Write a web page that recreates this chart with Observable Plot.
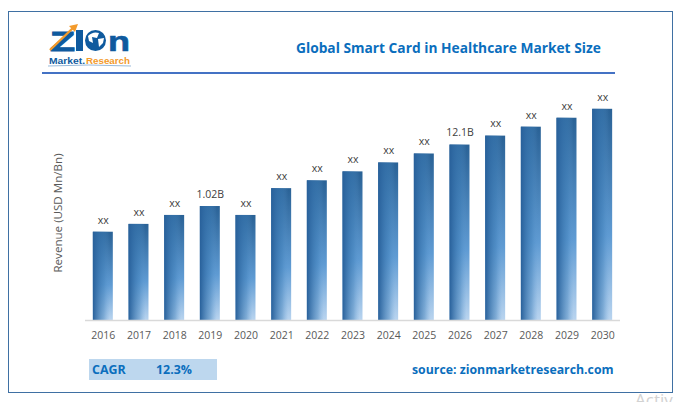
<!DOCTYPE html>
<html>
<head>
<meta charset="utf-8">
<script src="https://cdn.jsdelivr.net/npm/d3@7"></script>
<script src="https://cdn.jsdelivr.net/npm/@observablehq/plot@0.6"></script>
<style>
html,body{margin:0;padding:0;background:#fff;width:681px;height:402px;overflow:hidden;font-family:"Open Sans",sans-serif}
#page{position:relative;width:681px;height:402px;overflow:hidden}
#chart{position:absolute;left:0;top:0}
.frame{position:absolute;left:8px;top:11px;width:663px;height:380px;border:1px solid #3f70a3;box-sizing:content-box}
.title{position:absolute;left:296px;top:38px;font:bold 13.75px "Open Sans",sans-serif;color:#0a6ebd;white-space:nowrap}
.rule{position:absolute;left:42px;top:72px;width:573px;height:2px;background:#4472c4}
.cagr{position:absolute;left:89px;top:359px;width:128px;height:21px;background:#bdd7ee;color:#0a6ebd;font:bold 12.4px/22px "Open Sans",sans-serif}
.cagr span{position:absolute;top:0}
.source{position:absolute;left:412px;top:361px;font:bold 12.3px "Open Sans",sans-serif;color:#0a6ebd;white-space:nowrap}
.watermark{position:absolute;left:635px;top:388px;font:17px "Open Sans",sans-serif;color:#d2d2d2;white-space:nowrap}
#logo{position:absolute;left:46px;top:22px}
</style>
</head>
<body>
<div id="page">
  <div class="frame"></div>
  <svg id="logo" width="88" height="46" viewBox="0 0 88 46">
    <text x="4" y="28.5" font-family="Liberation Sans" font-weight="bold" font-size="28" fill="#0f5a9e" stroke="#0f5a9e" stroke-width="1" textLength="25" lengthAdjust="spacingAndGlyphs">Z</text>
    <rect x="30" y="8" width="7" height="21" fill="#0f5a9e"/>
    <path d="M4 28 L28 5" stroke="#f39a2b" stroke-width="2.4" fill="none"/>
    <path d="M32 2 L23 4 L29 10 Z" fill="#f39a2b"/>
    <circle cx="49.5" cy="18.5" r="10.5" fill="#0f5a9e"/>
    <path d="M42 14 Q47 9 53 11 L51 16 L46 15 L47 21 L43 19 Z M52 17 L58 16 L57 21 L53 25 Z" fill="#fff"/>
    <text x="62" y="28.5" font-family="Liberation Sans" font-weight="bold" font-size="28" fill="#0f5a9e" stroke="#0f5a9e" stroke-width="0.6" textLength="22" lengthAdjust="spacingAndGlyphs">n</text>
    <text x="3" y="42" font-family="Liberation Sans" font-weight="bold" font-size="9" fill="#0f5a9e" textLength="36" lengthAdjust="spacingAndGlyphs">Market.</text>
    <text x="40" y="42" font-family="Liberation Sans" font-weight="bold" font-size="9" fill="#f39a2b" textLength="44" lengthAdjust="spacingAndGlyphs">Research</text>
    <path d="M2 44 Q42 42 85 44" stroke="#7fa8d0" stroke-width="0.8" fill="none"/>
  </svg>
  <div class="title">Global Smart Card in Healthcare Market Size</div>
  <div class="rule"></div>
  <div id="chart"></div>
  <div class="cagr"><span style="left:3px">CAGR</span><span style="left:67px">12.3%</span></div>
  <div class="source">source: zionmarketresearch.com</div>
  <div class="watermark">Activ</div>
</div>
<script>
const years = ["2016","2017","2018","2019","2020","2021","2022","2023","2024","2025","2026","2027","2028","2029","2030"];
const revenue = [0.79,0.86,0.94,1.02,0.94,1.18,1.25,1.33,1.41,1.49,1.57,1.65,1.73,1.81,1.89];
const barLabels = ["xx","xx","xx","1.02B","xx","xx","xx","xx","xx","xx","12.1B","xx","xx","xx","xx"];
const yLabel = "Revenue (USD Mn/Bn)";
const rows = years.map((year, i) => ({year, value: revenue[i], label: barLabels[i]}));

const gradients = () => {
  const svg = document.createElementNS("http://www.w3.org/2000/svg", "g");
  svg.innerHTML = `<defs>
    <linearGradient id="barDown" x1="0" y1="0" x2="0" y2="1">
      <stop offset="0" stop-color="#2a6296"/>
      <stop offset="0.6" stop-color="#5f9bd3"/>
      <stop offset="1" stop-color="#b9d4ef"/>
    </linearGradient>
    <linearGradient id="barLeft" x1="0" y1="0" x2="1" y2="0">
      <stop offset="0" stop-color="#28609a" stop-opacity="1"/>
      <stop offset="0.55" stop-color="#3f7fb9" stop-opacity="0.45"/>
      <stop offset="0.85" stop-color="#5f9bd3" stop-opacity="0"/>
    </linearGradient>
  </defs>`;
  return svg;
};

const plot = Plot.plot({
  width: 681,
  height: 402,
  marginLeft: 85,
  marginRight: 61,
  marginTop: 105,
  marginBottom: 82,
  style: {background: "transparent", overflow: "visible", fontFamily: "Open Sans"},
  x: {domain: years, paddingInner: 0.44, paddingOuter: 0.22, round: false, label: null},
  y: {domain: [0, 1.924], axis: null},
  marks: [
    gradients,
    Plot.barY(rows, {x: "year", y: "value", fill: "url(#barDown)"}),
    Plot.barY(rows, {x: "year", y: "value", fill: "url(#barLeft)"}),
    Plot.ruleY([0], {stroke: "#d9d9d9", strokeWidth: 1.5}),
    Plot.axisX({tickSize: 0, tickPadding: 11, fontSize: 10.5, color: "#595959", label: null}),
    Plot.text(rows, {x: "year", y: "value", text: "label", dy: -12, fontSize: 10.5, fill: "#404040"}),
    Plot.text([yLabel], {frameAnchor: "left", dx: -27, rotate: -90, textAnchor: "middle", fontSize: 11.6, fill: "#595959"})
  ]
});
document.getElementById("chart").appendChild(plot);
</script>
</body>
</html>
